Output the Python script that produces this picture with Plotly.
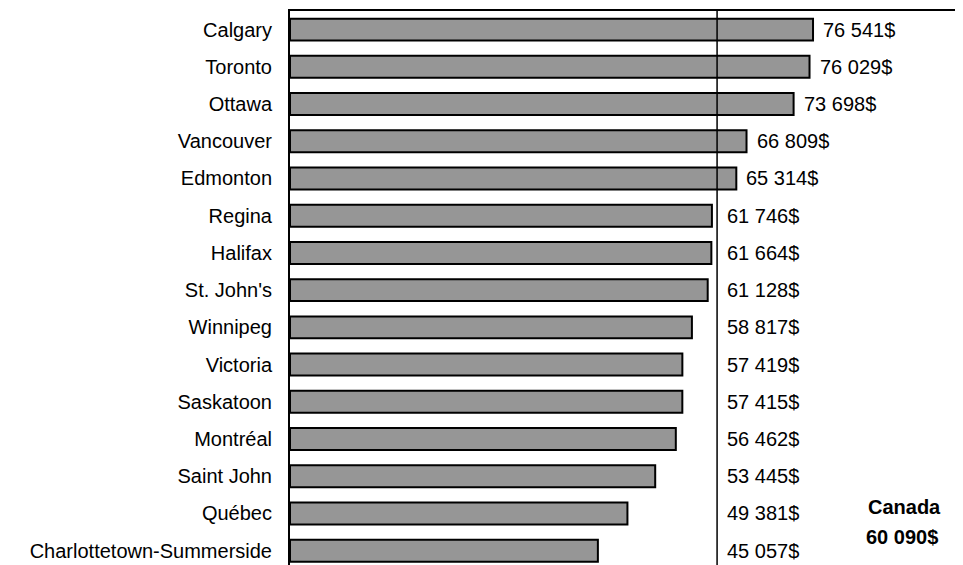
import plotly.graph_objects as go

cities = ["Calgary", "Toronto", "Ottawa", "Vancouver", "Edmonton", "Regina",
          "Halifax", "St. John's", "Winnipeg", "Victoria", "Saskatoon",
          "Montréal", "Saint John", "Québec", "Charlottetown-Summerside"]
income = [76541, 76029, 73698, 66809, 65314, 61746, 61664, 61128, 58817,
          57419, 57415, 56462, 53445, 49381, 45057]
canada_avg = 60090
# the reference line sits a bit right of the stated value on the chart's own scale
canada_line = 62500


def fmt(v):
    return "{:,}$".format(v).replace(",", " ")


fnt = dict(family="Liberation Sans, Arial, sans-serif", size=20, color="black")

fig = go.Figure(go.Bar(
    x=income,
    y=cities,
    orientation="h",
    marker=dict(color="#969696", line=dict(color="black", width=2)),
    hoverinfo="x+y",
))

for c, v in zip(cities, income):
    fig.add_annotation(x=max(v, canada_line), y=c, text=fmt(v),
                       showarrow=False, xanchor="left", xshift=8,
                       font=fnt)

fig.add_shape(type="line", xref="x", yref="paper", x0=canada_line,
              x1=canada_line, y0=0, y1=1, line=dict(color="black", width=1.5))

bold = dict(fnt, size=20)
fig.add_annotation(xref="paper", yref="paper", x=0.902, y=0.117,
                   xanchor="center", yanchor="middle",
                   text="<b>Canada</b>", showarrow=False, font=bold)
fig.add_annotation(xref="paper", yref="paper", x=0.898, y=0.064,
                   xanchor="center", yanchor="middle",
                   text="<b>" + fmt(canada_avg) + "</b>", showarrow=False,
                   font=bold)

fig.update_layout(
    width=963,
    height=565,
    margin=dict(l=282, r=0, t=3, b=0),
    plot_bgcolor="white",
    paper_bgcolor="white",
    bargap=0.41,
    showlegend=False,
    font=fnt,
    xaxis=dict(range=[0, 99660], side="top", showline=True, linecolor="black",
               linewidth=2, showgrid=False, zeroline=False,
               showticklabels=False, ticks=""),
    yaxis=dict(range=[14.6, -0.5], showline=True, linecolor="black",
               linewidth=2, showgrid=False, ticks="", ticklabelstandoff=12,
               tickfont=fnt),
)

fig.write_html("out.html")
